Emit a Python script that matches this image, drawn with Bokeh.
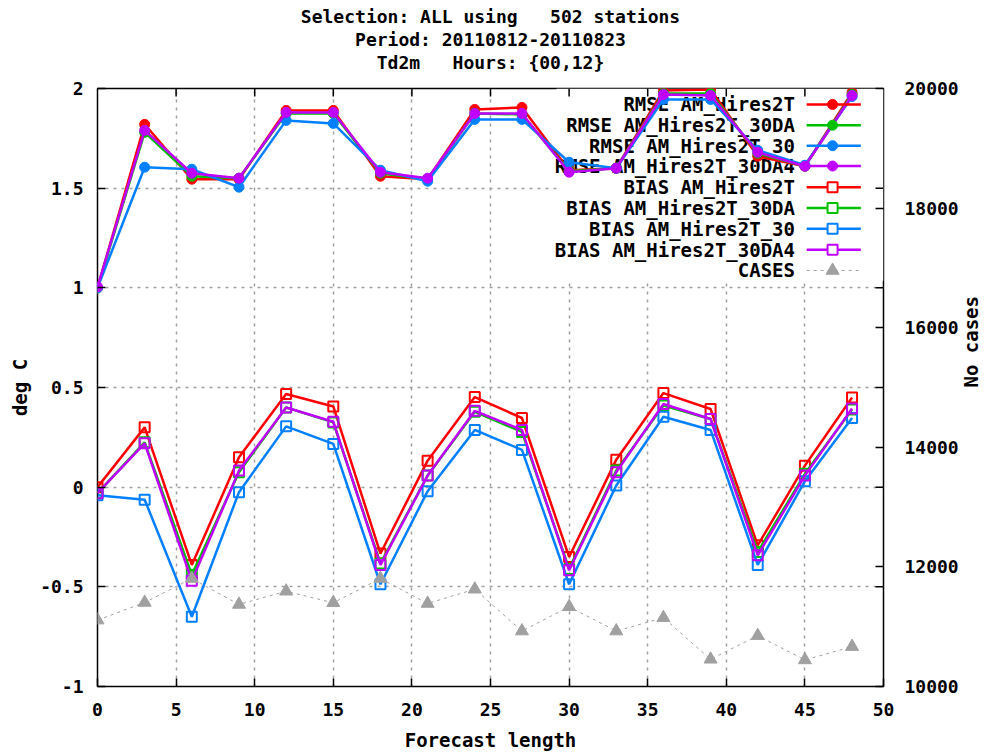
import math
from bokeh.plotting import figure
from bokeh.models import (Range1d, LinearAxis, FixedTicker, CustomJSTickFormatter, Title)
from bokeh.core.properties import value
from bokeh.embed import file_html
from bokeh.resources import INLINE

FONT = "DejaVu Sans Mono"
FS = "18px"
FS_BIG = "19px"
NB = "\u00a0"

# ---------------- data ----------------
forecast = [0, 3, 6, 9, 12, 15, 18, 21, 24, 27, 30, 33, 36, 39, 42, 45, 48]

rmse_hires2t = [1.00, 1.82, 1.545, 1.545, 1.89, 1.89, 1.56, 1.545, 1.895, 1.905,
                1.59, 1.60, 1.99, 1.995, 1.66, 1.61, 1.98]
rmse_30da = [1.00, 1.78, 1.56, 1.55, 1.875, 1.875, 1.575, 1.545, 1.875, 1.87,
             1.585, 1.60, 1.975, 1.975, 1.675, 1.61, 1.97]
rmse_30 = [1.00, 1.605, 1.595, 1.505, 1.84, 1.825, 1.59, 1.535, 1.845, 1.845,
           1.63, 1.60, 1.945, 1.945, 1.69, 1.615, 1.96]
rmse_30da4 = [1.005, 1.79, 1.575, 1.55, 1.88, 1.88, 1.58, 1.55, 1.875, 1.875,
              1.58, 1.60, 1.97, 1.965, 1.68, 1.61, 1.965]

bias_hires2t = [0.0, 0.30, -0.39, 0.15, 0.467, 0.405, -0.333, 0.133, 0.452, 0.347,
                -0.35, 0.138, 0.472, 0.392, -0.292, 0.108, 0.45]
bias_30da = [-0.03, 0.225, -0.44, 0.075, 0.40, 0.325, -0.383, 0.058, 0.378, 0.277,
             -0.41, 0.083, 0.41, 0.342, -0.325, 0.067, 0.39]
bias_30 = [-0.04, -0.063, -0.65, -0.025, 0.305, 0.217, -0.487, -0.02, 0.287, 0.187,
           -0.487, 0.008, 0.353, 0.287, -0.39, 0.03, 0.347]
bias_30da4 = [-0.03, 0.22, -0.47, 0.083, 0.40, 0.328, -0.39, 0.058, 0.383, 0.287,
              -0.417, 0.075, 0.417, 0.342, -0.342, 0.058, 0.395]

cases = [11110, 11405, 11805, 11372, 11593, 11400, 11805, 11388, 11627, 10927,
         11333, 10927, 11150, 10455, 10850, 10444, 10667]

x_ticks = [0, 5, 10, 15, 20, 25, 30, 35, 40, 45, 50]
y_ticks = [-1, -0.5, 0, 0.5, 1, 1.5, 2]
case_ticks = [10000, 12000, 14000, 16000, 18000, 20000]

# runs of spaces kept with non-breaking spaces (SVG collapses plain ones)
title_lines = ["Selection: ALL using " + NB * 2 + "502 stations",
               "Period: 20110812-20110823",
               "Td2m " + NB * 2 + "Hours: {00,12}"]

series_names = ["RMSE AM_Hires2T", "RMSE AM_Hires2T_30DA", "RMSE AM_Hires2T_30",
                "RMSE AM_Hires2T_30DA4", "BIAS AM_Hires2T", "BIAS AM_Hires2T_30DA",
                "BIAS AM_Hires2T_30", "BIAS AM_Hires2T_30DA4", "CASES"]
colors = ["#ff0000", "#00c000", "#0080ff", "#c000ff"]
CASE_COLOR = "#a0a0a0"

# ---------------- figure ----------------
W, H = 995, 753
FL, FT, FW, FH = 97, 88, 787, 600
p = figure(width=W, height=H, output_backend="svg", toolbar_location=None,
           x_range=Range1d(0, 50), y_range=Range1d(-1, 2), title=None,
           min_border_left=FL, min_border_top=FT,
           min_border_right=W - FL - FW, min_border_bottom=H - FT - FH,
           x_axis_label="Forecast length", y_axis_label="deg C")
p.extra_y_ranges = {"cases": Range1d(10000, 20000)}
p.background_fill_color = "white"
p.border_fill_color = "white"
p.outline_line_color = "black"
p.outline_line_width = 1.5
p.outline_line_alpha = 1.0

fmt = CustomJSTickFormatter(code="return tick.toString();")

def style_axis(ax):
    ax.major_label_text_font = FONT
    ax.major_label_text_font_size = FS
    ax.major_label_text_font_style = "bold"
    ax.major_label_text_color = "black"
    ax.axis_label_text_font = FONT
    ax.axis_label_text_font_size = FS_BIG
    ax.axis_label_text_font_style = "bold"
    ax.axis_label_text_color = "black"
    ax.major_tick_in = 8
    ax.major_tick_out = 0
    ax.major_tick_line_width = 1.5
    ax.major_tick_line_color = "black"
    ax.minor_tick_line_color = None
    ax.axis_line_color = None
    ax.formatter = fmt

p.xaxis.ticker = FixedTicker(ticks=x_ticks)
p.yaxis.ticker = FixedTicker(ticks=y_ticks)
for ax in p.xaxis + p.yaxis:
    style_axis(ax)
p.xaxis.major_label_standoff = 16
p.xaxis.axis_label_standoff = 10
p.yaxis.major_label_standoff = 14
p.yaxis.axis_label_standoff = 6

right = LinearAxis(y_range_name="cases", ticker=FixedTicker(ticks=case_ticks),
                   axis_label="No cases")
style_axis(right)
right.major_label_standoff = 21
right.axis_label_standoff = 9
right.axis_label_orientation = math.pi / 2
p.add_layout(right, "right")

# spacer between frame and heading, then the three heading lines (innermost first)
p.add_layout(Title(text=NB, text_font_size="1px", standoff=13), "above")
for t in reversed(title_lines):
    p.add_layout(Title(text=t, align="center", text_font=FONT, text_font_size=FS,
                       text_font_style="bold", text_color="black", standoff=0,
                       vertical_align="bottom"), "above")

p.xgrid.ticker = FixedTicker(ticks=x_ticks[1:-1])
p.ygrid.ticker = FixedTicker(ticks=y_ticks[1:-1])
for g in (p.xgrid, p.ygrid):
    g.grid_line_color = "#a0a0a0"
    g.grid_line_width = 1.5
    g.grid_line_dash = "3 5"

# opaque key background
p.quad(left=[29.2], right=[50], top=[2], bottom=[1.035],
       fill_color="white", line_color=None)

# mirrored ticks (top and right)
tick_len_y = 8 / (FH / 3.0)
tick_len_x = 8 / (FW / 50.0)
p.segment(x0=x_ticks[1:-1], x1=x_ticks[1:-1], y0=[2] * 9, y1=[2 - tick_len_y] * 9,
          line_color="black", line_width=1.5)
p.segment(x0=[50] * 5, x1=[50 - tick_len_x] * 5, y0=y_ticks[1:-1], y1=y_ticks[1:-1],
          line_color="black", line_width=1.5)

# key text
key_rows = [1.92, 1.816, 1.713, 1.611, 1.505, 1.40, 1.296, 1.191, 1.087]
key_x_text, key_x0, key_x1, key_xm = 44.37, 45.11, 48.56, 46.76
p.text(x=[key_x_text] * len(series_names), y=key_rows, text=series_names,
       text_align="right", text_baseline="middle", text_font=value(FONT),
       text_font_size=FS_BIG, text_font_style="bold", text_color="black")

# data series
rmse = [rmse_hires2t, rmse_30da, rmse_30, rmse_30da4]
bias = [bias_hires2t, bias_30da, bias_30, bias_30da4]
LW = 2.5
for vals, c in zip(rmse, colors):
    p.line(forecast, vals, line_color=c, line_width=LW)
    p.scatter(forecast, vals, marker="circle", size=10, fill_color=c, line_color=c)
for vals, c in zip(bias, colors):
    p.line(forecast, vals, line_color=c, line_width=LW)
    p.scatter(forecast, vals, marker="square", size=10, fill_color=None,
              line_color=c, line_width=2)
p.line(forecast, cases, y_range_name="cases", line_color=CASE_COLOR,
       line_width=1, line_dash="3 4")
p.scatter(forecast, cases, y_range_name="cases", marker="triangle", size=13,
          fill_color=CASE_COLOR, line_color=CASE_COLOR)

# key samples
for i, c in enumerate(colors):
    p.line([key_x0, key_x1], [key_rows[i]] * 2, line_color=c, line_width=LW)
    p.scatter([key_xm], [key_rows[i]], marker="circle", size=10, fill_color=c, line_color=c)
    p.line([key_x0, key_x1], [key_rows[i + 4]] * 2, line_color=c, line_width=LW)
    p.scatter([key_xm], [key_rows[i + 4]], marker="square", size=10, fill_color="white",
              line_color=c, line_width=2)
p.line([key_x0, key_x1], [key_rows[8]] * 2, line_color=CASE_COLOR, line_width=1,
       line_dash="3 4")
p.scatter([key_xm], [key_rows[8]], marker="triangle", size=13,
          fill_color=CASE_COLOR, line_color=CASE_COLOR)

open("out.html", "w").write(file_html(p, INLINE))
